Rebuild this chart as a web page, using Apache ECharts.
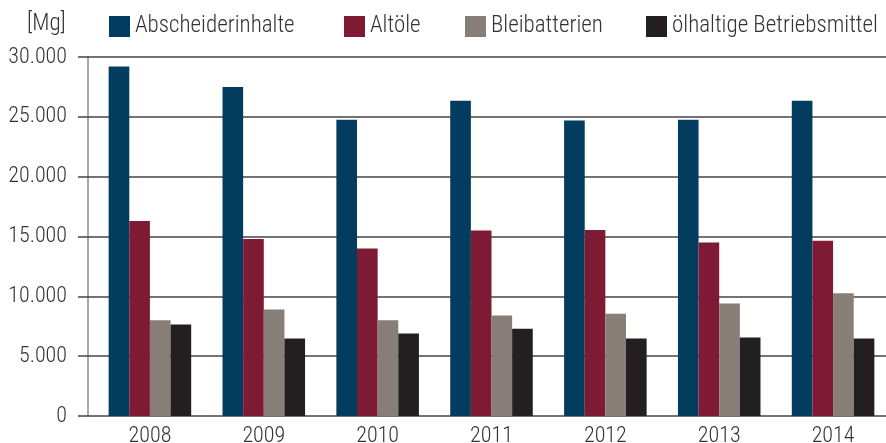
<!DOCTYPE html>
<html>
<head>
<meta charset="utf-8">
<script src="https://cdn.jsdelivr.net/npm/echarts@6/dist/echarts.min.js"></script>
<style>
	html, body { margin: 0; padding: 0; background: #fff; }
	#chart { width: 886px; height: 443px; }
</style>
</head>
<body>
<div id="chart"></div>
<script>
// Jahre
var years = ["2008", "2009", "2010", "2011", "2012", "2013", "2014"];
// Werte in Mg
var abscheider = [29200, 27500, 24750, 26350, 24700, 24750, 26350];
var altoele = [16300, 14800, 14000, 15500, 15550, 14500, 14650];
var blei = [8000, 8900, 8000, 8400, 8550, 9400, 10250];
var betriebsmittel = [7650, 6480, 6900, 7300, 6480, 6550, 6480];
var yTicks = [0, 5000, 10000, 15000, 20000, 25000, 30000];

var fontName = "'Roboto Condensed', 'Liberation Sans Narrow', Roboto, sans-serif";
var colors = ["#023d60", "#7f1a35", "#877e77", "#231f20"];
var names = ["Abscheiderinhalte", "Altöle", "Bleibatterien", "ölhaltige Betriebsmittel"];
var legendLeft = [109, 344, 465, 646];

function fmt(v) {
	return String(v).replace(/\B(?=(\d{3})+(?!\d))/g, ".");
}

var legends = names.map(function(n, i) {
	return {
		data: [n],
		left: legendLeft[i],
		top: 15,
		itemWidth: 21,
		itemHeight: 21,
		icon: "rect",
		selectedMode: false,
		textStyle: { fontFamily: fontName, fontSize: 23, fontWeight: 300, color: "#333", padding: [0, 0, 0, 0] },
		padding: 0,
		itemGap: 0
	};
});

var myChart = echarts.init(document.getElementById("chart"), null, { renderer: "canvas" });
var option = {
	animation: false,
	color: colors,
	textStyle: { fontFamily: fontName },
	title: {
		text: "[Mg]",
		left: 27,
		top: 13,
		padding: 0,
		textStyle: { fontFamily: fontName, fontSize: 23, fontWeight: 300, color: "#333" }
	},
	legend: legends,
	// die Jahresgruppen sitzen etwas rechts von der Achse
	grid: { left: 93, right: -4, top: 57, bottom: 27, containLabel: false, outerBoundsMode: "none" },
	xAxis: {
		type: "category",
		data: years,
		axisLine: { show: false },
		axisTick: { show: false },
		axisLabel: { fontFamily: fontName, fontSize: 22, fontWeight: 300, color: "#333", margin: 9 }
	},
	yAxis: [
		{
			type: "value",
			min: yTicks[0],
			max: yTicks[yTicks.length - 1],
			interval: 5000,
			axisLine: { show: false },
			axisTick: { show: true, length: 15, lineStyle: { color: "#444", width: 1.5 } },
			splitLine: { show: true, lineStyle: { color: "#444", width: 1.5 } },
			axisLabel: { fontFamily: fontName, fontSize: 22, fontWeight: 300, color: "#333", margin: 26, formatter: fmt }
		},
		{
			// nur die graue Achsenlinie
			type: "value",
			position: "left",
			offset: 5,
			min: yTicks[0],
			max: yTicks[yTicks.length - 1],
			interval: 5000,
			axisLine: { show: true, lineStyle: { color: "#8a8a8a", width: 1.5 } },
			axisTick: { show: false },
			splitLine: { show: false },
			axisLabel: { show: false }
		}
	],
	series: [
		{ name: names[0], type: "bar", data: abscheider, barGap: "0%", barCategoryGap: "27.5%" },
		{ name: names[1], type: "bar", data: altoele },
		{ name: names[2], type: "bar", data: blei },
		{ name: names[3], type: "bar", data: betriebsmittel }
	]
};
myChart.setOption(option);
</script>
</body>
</html>
